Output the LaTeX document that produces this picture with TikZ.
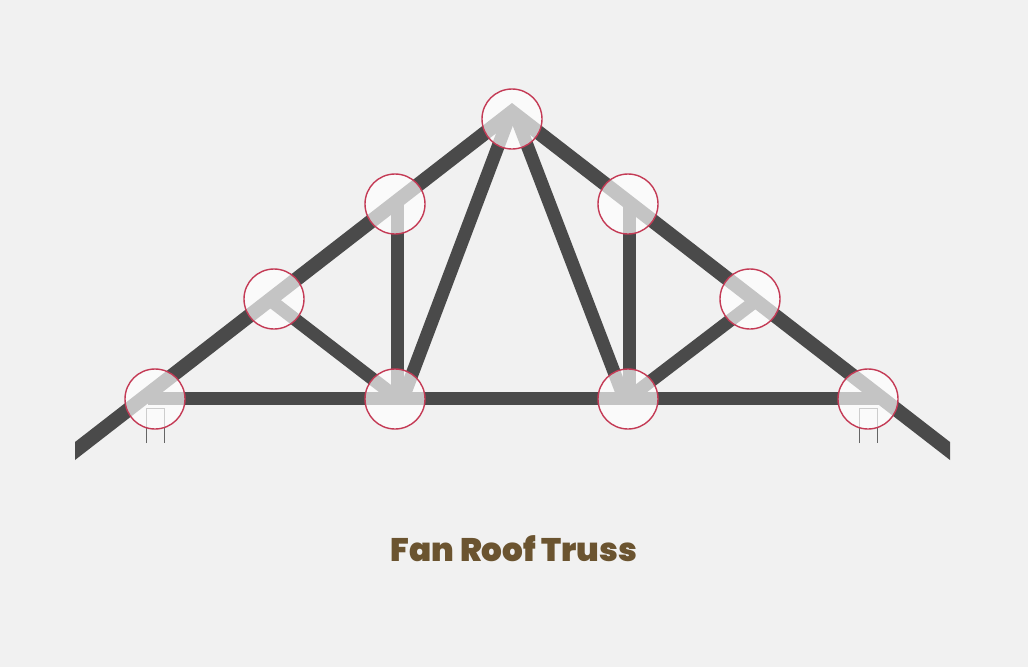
\documentclass[tikz,border=0pt]{standalone}
\usepackage{fontspec}
\newfontfamily\titlefont{Poppins Black}
\definecolor{paper}{HTML}{F1F1F1}
\definecolor{timber}{HTML}{4A4A4A}
\definecolor{ringred}{HTML}{C43A55}
\definecolor{titlebrown}{HTML}{6B5430}
\tikzset{
	member/.style={draw=timber, line width=13pt},
	joint/.style={circle, draw=ringred, line width=1.4pt, fill=white, fill opacity=0.68, minimum size=60pt, inner sep=0pt},
	bearing/.style={draw=timber!85, line width=0.8pt}
}
\begin{document}
\begin{tikzpicture}[x=1pt,y=-1pt]
	\useasboundingbox (0,0) rectangle (1028,667);
	\fill [paper] (0,0) rectangle (1028,667);
	% rafters
	\coordinate (eaveLtop) at (75,442);
	\coordinate (eaveLbot) at (75,460);
	\coordinate (apexTop) at (512,103);
	\coordinate (apexBot) at (512,121);
	\coordinate (eaveRtop) at (950,442);
	\coordinate (eaveRbot) at (950,460);
	% bottom chord and webs
	\coordinate (heelL) at (148,398.5);
	\coordinate (heelR) at (880,398.5);
	\coordinate (panelL) at (397,398.5);
	\coordinate (panelR) at (629,398.5);
	\coordinate (postL) at (397,204);
	\coordinate (postR) at (629,204);
	\coordinate (braceLfoot) at (398,398.5);
	\coordinate (braceRfoot) at (628,398.5);
	\coordinate (braceL) at (270,300);
	\coordinate (braceR) at (756,300.7);
	\coordinate (fanL) at (508.8,118);
	\coordinate (fanR) at (516.7,118);
	\coordinate (fanLfoot) at (402.7,399);
	\coordinate (fanRfoot) at (624.4,399);
	% bearings
	\draw [bearing] (146,443) |- (164.5,408) -- (164.5,443);
	\draw [bearing] (859,443) |- (877.5,408) -- (877.5,443);
	\draw [member] (heelL) -- (heelR);
	\draw [member] (panelL) -- (postL);
	\draw [member] (panelR) -- (postR);
	\draw [member] (braceLfoot) -- (braceL);
	\draw [member] (braceRfoot) -- (braceR);
	\draw [member] (fanLfoot) -- (fanL);
	\draw [member] (fanRfoot) -- (fanR);
	\fill [timber] (eaveLtop) -- (apexTop) -- (eaveRtop) -- (eaveRbot) -- (apexBot) -- (eaveLbot) -- cycle;
	% joints
	\node [joint] (jointHeelL) at (155,399) {};
	\node [joint] (jointBraceL) at (274,299) {};
	\node [joint] (jointPostL) at (395,204) {};
	\node [joint] (jointApex) at (512,119) {};
	\node [joint] (jointPostR) at (628,204) {};
	\node [joint] (jointBraceR) at (750,299) {};
	\node [joint] (jointHeelR) at (868,399) {};
	\node [joint] (jointPanelL) at (395,399) {};
	\node [joint] (jointPanelR) at (628,399) {};
	\node [text=titlebrown, font=\titlefont\fontsize{32.6}{36}\selectfont] (title) at (514,548.5) {Fan Roof Truss};
\end{tikzpicture}
\end{document}
